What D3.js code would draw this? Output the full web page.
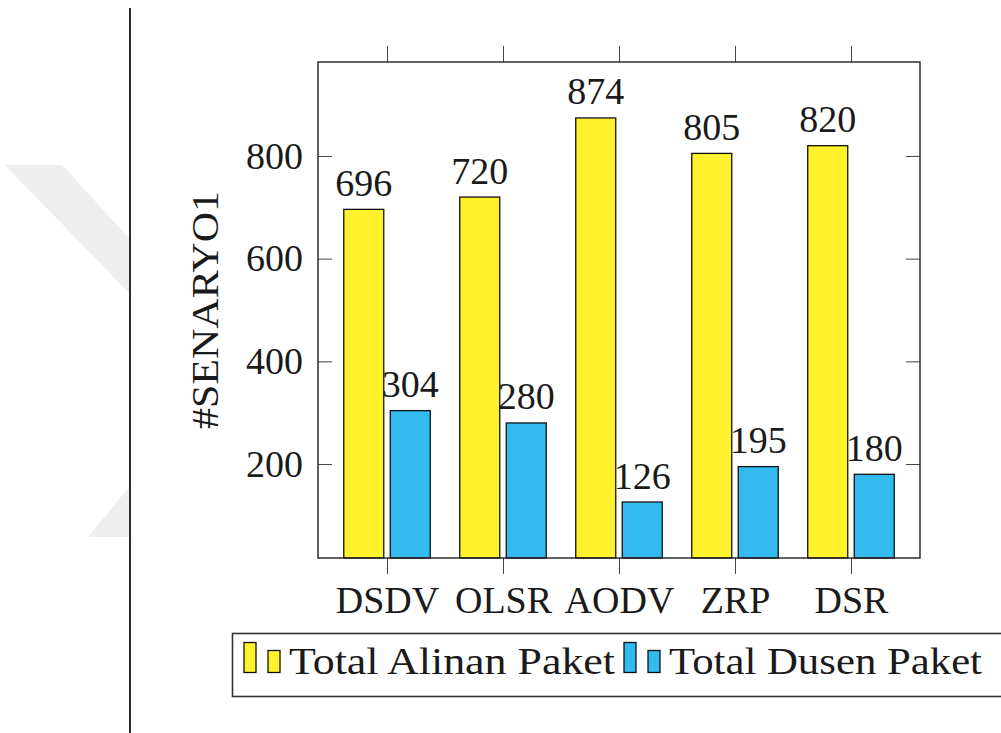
<!DOCTYPE html>
<html><head><meta charset="utf-8">
<script src="https://cdn.jsdelivr.net/npm/d3@7"></script>
</head><body style="margin:0">
<svg id="c" width="1001" height="733" font-family="Liberation Serif" font-size="38"></svg>
<script>
// ---- data ----
const categories = ["DSDV", "OLSR", "AODV", "ZRP", "DSR"];
const seriesNames = ["Total Alinan Paket", "Total Dusen Paket"];
const alinanValues = [696, 720, 874, 805, 820];
const dusenValues = [304, 280, 126, 195, 180];
const yTickValues = [200, 400, 600, 800];
const yLabel = "#SENARYO1";
const seriesColors = ["#fff22d", "#33bbef"];

const seriesValues = [alinanValues, dusenValues];
const svg = d3.select("#c");
const FONT = "Liberation Serif";
const FS = 38;
const TXT = "#1a1a1a";

// ---- background decoration (page watermark + page rule) ----
const wm = svg.append("g").attr("fill", "#eeeeee");
wm.append("polygon").attr("points", "5,165 62,165 129,238 129,293");
wm.append("polygon").attr("points", "88,537 129,537 129,487");
svg.append("line").attr("x1", 130).attr("x2", 130).attr("y1", 8).attr("y2", 733)
  .attr("stroke", "#2b2b2b").attr("stroke-width", 2);

// ---- scales ----
const plot = {left: 318, right: 920, top: 62, bottom: 558};
const x = d3.scalePoint().domain(categories).range([plot.left, plot.right]).padding(0.595);
const inner = d3.scaleBand().domain(seriesNames).range([-43.25, 43.25]).paddingInner(0.14);
const y = d3.scaleLinear().domain([17, 983]).range([plot.bottom, plot.top]);
const color = d3.scaleOrdinal().domain(seriesNames).range(seriesColors);

// ---- bars ----
const rows = categories.map((c, i) => ({cat: c, vals: seriesNames.map((s, j) => ({s, v: seriesValues[j][i]}))}));
const groups = svg.append("g").selectAll("g").data(rows).join("g")
  .attr("transform", d => `translate(${x(d.cat)},0)`);
groups.selectAll("rect").data(d => d.vals).join("rect")
  .attr("x", d => inner(d.s))
  .attr("width", inner.bandwidth())
  .attr("y", d => y(d.v))
  .attr("height", d => plot.bottom - y(d.v))
  .attr("fill", d => color(d.s))
  .attr("stroke", "#111").attr("stroke-width", 1.3);
groups.selectAll("text").data(d => d.vals).join("text")
  .attr("x", d => inner(d.s) + inner.bandwidth() / 2)
  .attr("y", d => y(d.v) - 13.5)
  .attr("text-anchor", "middle")
  .attr("font-family", FONT).attr("font-size", FS).attr("fill", TXT)
  .text(d => d.v);

// ---- axes ----
function styleAxis(g) {
  g.attr("font-family", FONT).attr("font-size", FS);
  g.select(".domain").remove();
  g.selectAll(".tick line").attr("stroke", "#444").attr("stroke-width", 1);
  g.selectAll(".tick text").attr("font-family", FONT).attr("font-size", FS).attr("fill", TXT);
}
svg.append("g").attr("transform", `translate(${plot.left},0)`)
  .call(d3.axisLeft(y).tickValues(yTickValues).tickSize(-14).tickPadding(15))
  .call(styleAxis);
svg.append("g").attr("transform", `translate(${plot.right},0)`)
  .call(d3.axisRight(y).tickValues(yTickValues).tickSize(-14).tickFormat(""))
  .call(styleAxis);
svg.append("g").attr("transform", `translate(0,${plot.bottom})`)
  .call(d3.axisBottom(x).tickSize(16).tickPadding(12))
  .call(styleAxis);
svg.append("g").attr("transform", `translate(0,${plot.top})`)
  .call(d3.axisTop(x).tickSize(16).tickFormat(""))
  .call(styleAxis);

// frame
svg.append("rect").attr("x", plot.left).attr("y", plot.top)
  .attr("width", plot.right - plot.left).attr("height", plot.bottom - plot.top)
  .attr("fill", "none").attr("stroke", "#222").attr("stroke-width", 1.4);

// y label
svg.append("text").attr("transform", `translate(218,${(plot.top + plot.bottom) / 2}) rotate(-90)`)
  .attr("text-anchor", "middle")
  .attr("font-family", FONT).attr("font-size", FS).attr("fill", TXT)
  .attr("textLength", 238).attr("lengthAdjust", "spacingAndGlyphs")
  .text(yLabel);

// ---- legend ----
const lg = svg.append("g");
lg.append("rect").attr("x", 232.5).attr("y", 633.5).attr("width", 800).attr("height", 63)
  .attr("fill", "#fff").attr("stroke", "#333").attr("stroke-width", 1.6);
const legendX = [244, 624];
const legendTextLen = [326, 313];
seriesNames.forEach((s, i) => {
  const g = lg.append("g").attr("transform", `translate(${legendX[i]},0)`);
  g.append("rect").attr("x", 0).attr("y", 642.5).attr("width", 12).attr("height", 30)
    .attr("fill", color(s)).attr("stroke", "#111").attr("stroke-width", 1.3);
  g.append("rect").attr("x", 24).attr("y", 650.5).attr("width", 12).attr("height", 22)
    .attr("fill", color(s)).attr("stroke", "#111").attr("stroke-width", 1.3);
  g.append("text").attr("x", 45).attr("y", 674)
    .attr("font-family", FONT).attr("font-size", FS).attr("fill", TXT)
    .attr("textLength", legendTextLen[i]).attr("lengthAdjust", "spacingAndGlyphs")
    .text(s);
});
</script>
</body></html>
